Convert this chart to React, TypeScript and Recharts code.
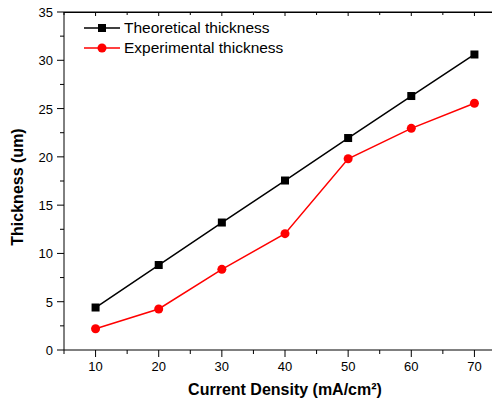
import { Line, LineChart, XAxis, YAxis } from "recharts";

const densities = [10, 20, 30, 40, 50, 60, 70];
const theoretical = [4.4, 8.8, 13.2, 17.55, 21.95, 26.3, 30.6];
const experimental = [2.2, 4.25, 8.35, 12.05, 19.8, 22.95, 25.55];

const xTicks = [5, 10, 15, 20, 25, 30, 35, 40, 45, 50, 55, 60, 65, 70, 75];
const yTicks = [0, 2.5, 5, 7.5, 10, 12.5, 15, 17.5, 20, 22.5, 25, 27.5, 30, 32.5, 35];

const data = densities.map((d, i) => ({
  density: d,
  theo: theoretical[i],
  exp: experimental[i],
}));

const FONT = "'Liberation Sans', Arial, sans-serif";

function YTick(props: any) {
  const { x, y, payload } = props;
  const major = payload.value % 5 === 0;
  const len = major ? 7 : 4;
  return (
    <g>
      <line x1={x} x2={x - len} y1={y} y2={y} stroke="#000" strokeWidth={1} />
      {major && (
        <text x={x - 11} y={y + 5} textAnchor="end" fontSize={13} fontFamily={FONT} fill="#000">
          {payload.value}
        </text>
      )}
    </g>
  );
}

function XTick(props: any) {
  const { x, y, payload } = props;
  const major = payload.value % 10 === 0;
  const len = major ? 7 : 4;
  return (
    <g>
      <line x1={x} x2={x} y1={y} y2={y + len} stroke="#000" strokeWidth={1} />
      {major && (
        <text x={x} y={y + 21} textAnchor="middle" fontSize={13} fontFamily={FONT} fill="#000">
          {payload.value}
        </text>
      )}
    </g>
  );
}

// top frame: short ticks pointing into the plot
function TopTick(props: any) {
  const { x, y, payload } = props;
  const major = payload.value % 10 === 0;
  return <line x1={x} x2={x} y1={y} y2={y + (major ? 4 : 3)} stroke="#000" strokeWidth={1} />;
}

function LegendBox() {
  const rows = [
    { label: "Theoretical thickness", color: "#000", square: true },
    { label: "Experimental thickness", color: "#ff0000", square: false },
  ];
  return (
    <div style={{ position: "absolute", left: 84, top: 18, fontFamily: FONT, fontSize: 15.5, lineHeight: "20px" }}>
      {rows.map((r) => (
        <div key={r.label} style={{ display: "flex", alignItems: "center", height: 20 }}>
          <svg width={40} height={12} style={{ display: "block" }}>
            <line x1={0} x2={36} y1={6} y2={6} stroke={r.color} strokeWidth={1.5} />
            {r.square ? (
              <rect x={14} y={2} width={8} height={8} fill={r.color} />
            ) : (
              <circle cx={18} cy={6} r={4.5} fill={r.color} />
            )}
          </svg>
          <span style={{ color: "#000" }}>{r.label}</span>
        </div>
      ))}
    </div>
  );
}

function SquareDot(props: any) {
  const { cx, cy } = props;
  return <rect x={cx - 4} y={cy - 4} width={8} height={8} fill="#000" />;
}

export default function App() {
  return (
    <div style={{ margin: -8, width: 500, height: 407, overflow: "hidden", background: "#fff", position: "relative" }}>
      <LineChart
        width={506}
        height={407}
        data={data}
        margin={{ top: 11, right: 0, left: 0, bottom: 0 }}
      >
        <XAxis
          xAxisId="top"
          orientation="top"
          dataKey="density"
          type="number"
          domain={[5, 75]}
          ticks={xTicks}
          height={1}
          tickSize={0}
          tickMargin={0}
          tickLine={false}
          tick={<TopTick />}
          axisLine={{ stroke: "#000", strokeWidth: 1 }}
        />
        <XAxis
          xAxisId="bottom"
          dataKey="density"
          type="number"
          domain={[5, 75]}
          ticks={xTicks}
          height={57}
          tickSize={0}
          tickMargin={0}
          tickLine={false}
          tick={<XTick />}
          axisLine={{ stroke: "#000", strokeWidth: 1 }}
          label={{
            value: "Current Density (mA/cm²)",
            position: "insideBottom",
            offset: 12,
            style: { fontFamily: FONT, fontSize: 16, fontWeight: "bold", fill: "#000" },
          }}
        />
        <YAxis
          type="number"
          domain={[0, 35]}
          ticks={yTicks}
          width={64}
          tickSize={0}
          tickMargin={0}
          tickLine={false}
          tick={<YTick />}
          axisLine={{ stroke: "#000", strokeWidth: 1 }}
          label={{
            value: "Thickness (um)",
            angle: -90,
            position: "insideLeft",
            offset: 17,
            dy: 6,
            style: { fontFamily: FONT, fontSize: 16, fontWeight: "bold", fill: "#000", textAnchor: "middle" },
          }}
        />
        <Line
          xAxisId="bottom"
          dataKey="theo"
          name="Theoretical thickness"
          stroke="#000"
          strokeWidth={1.5}
          dot={<SquareDot />}
          isAnimationActive={false}
        />
        <Line
          xAxisId="top"
          dataKey="exp"
          name="Experimental thickness"
          stroke="#ff0000"
          strokeWidth={1.5}
          dot={{ r: 4.5, fill: "#ff0000", stroke: "none" }}
          isAnimationActive={false}
        />
      </LineChart>
      {/* frame line along the top of the plot */}
      <div style={{ position: "absolute", left: 64, top: 12, width: 436, borderTop: "1px solid #000" }} />
      <LegendBox />
    </div>
  );
}
